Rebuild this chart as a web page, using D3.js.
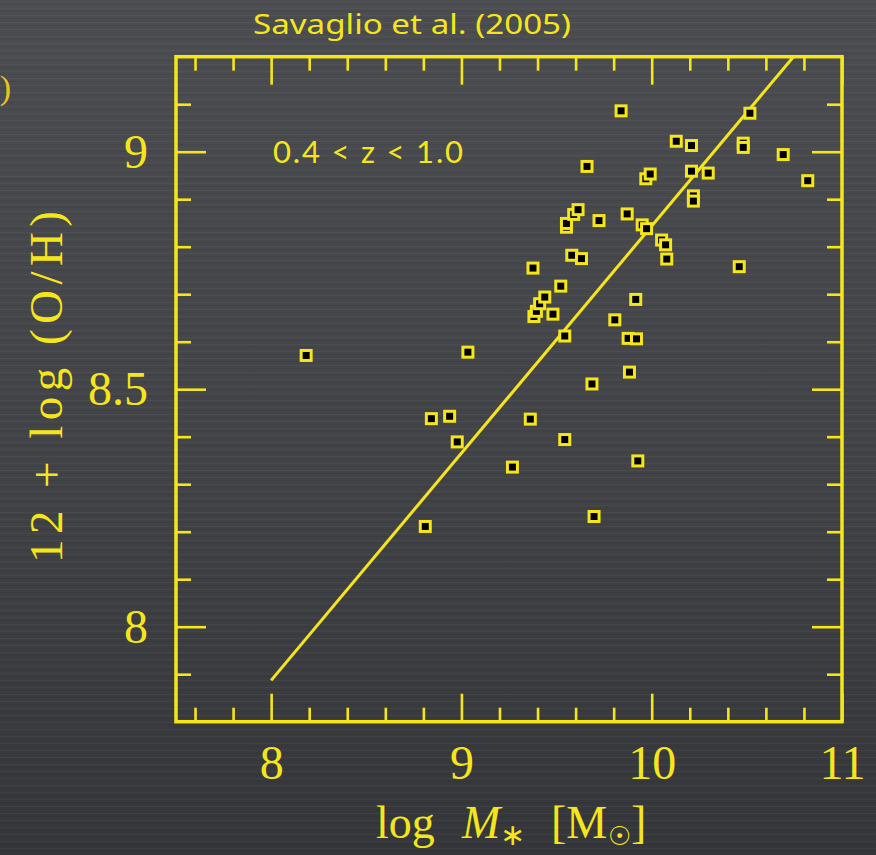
<!DOCTYPE html>
<html>
<head>
<meta charset="utf-8">
<script src="https://cdn.jsdelivr.net/npm/d3@7"></script>
<style>
  html, body { margin: 0; padding: 0; background: #434448; }
  svg { display: block; }
</style>
</head>
<body>
<script>
// ---- Data ----
const logMass = [8.184, 8.810, 8.842, 8.938, 8.978, 9.034, 9.268, 9.362, 9.376, 9.381,
  9.394, 9.411, 9.438, 9.481, 9.522, 9.543, 9.543, 9.552, 9.552, 9.590,
  9.613, 9.580, 9.631, 9.660, 9.686, 9.697, 9.723, 9.806, 9.839, 9.871,
  9.876, 9.920, 9.883, 9.916, 9.927, 9.950, 9.973, 9.969, 9.992, 10.052,
  10.073, 10.079, 10.129, 10.209, 10.209, 10.297, 10.219, 10.219, 10.481, 10.481,
  10.460, 10.516, 10.691, 10.820];
const oxygenAbund = [8.571, 8.211, 8.438, 8.443, 8.389, 8.578, 8.336, 8.437, 8.755, 8.653,
  8.664, 8.680, 8.694, 8.658, 8.717, 8.612, 8.394, 8.841, 8.849, 8.868,
  8.878, 8.782, 8.775, 8.969, 8.511, 8.232, 8.855, 8.646, 9.086, 8.869,
  8.607, 8.606, 8.536, 8.689, 8.349, 8.846, 8.838, 8.943, 8.953, 8.814,
  8.804, 8.774, 9.022, 9.013, 8.959, 8.955, 8.907, 8.896, 9.018, 9.009,
  8.758, 9.081, 8.994, 8.939];
const fitX = [8.0, 10.745];
const fitY = [7.887, 9.2];
const xTickValues = [8, 9, 10, 11];
const xTickLabels = ["8", "9", "10", "11"];
const yTickValues = [8, 8.5, 9];
const yTickLabels = ["8", "8.5", "9"];
const titleText = "Savaglio et al. (2005)";
const redshiftText = "0.4 < z < 1.0";

// ---- Layout ----
const W = 876, H = 855;
const yellow = "#f5e61c";
const L = 176, R = 842, T = 56.7, B = 721.7;

const svg = d3.select("body").append("svg").attr("width", W).attr("height", H);
const defs = svg.append("defs");
const grad = defs.append("linearGradient").attr("id", "bg").attr("x1", 0).attr("y1", 0).attr("x2", 0).attr("y2", 1);
grad.append("stop").attr("offset", "0%").attr("stop-color", "#4c4d51");
grad.append("stop").attr("offset", "55%").attr("stop-color", "#424347");
grad.append("stop").attr("offset", "100%").attr("stop-color", "#35363a");
const pat = defs.append("pattern").attr("id", "brush").attr("width", 876).attr("height", 7)
  .attr("patternUnits", "userSpaceOnUse");
pat.append("rect").attr("x", 0).attr("y", 1).attr("width", 876).attr("height", 1).attr("fill", "#ffffff").attr("opacity", 0.035);
pat.append("rect").attr("x", 0).attr("y", 4).attr("width", 876).attr("height", 1).attr("fill", "#000000").attr("opacity", 0.06);
svg.append("rect").attr("width", W).attr("height", H).attr("fill", "url(#bg)");
svg.append("rect").attr("width", W).attr("height", H).attr("fill", "url(#brush)");

const x = d3.scaleLinear().domain([7.5, 11]).range([L, R]);
const y = d3.scaleLinear().domain([7.8, 9.2]).range([B, T]);

const xMinor = d3.range(7.6, 10.9, 0.2).map(v => +v.toFixed(1)).filter(v => Math.abs(v - Math.round(v)) > 1e-6);
const yMinor = d3.range(7.9, 9.15, 0.1).map(v => +v.toFixed(1)).filter(v => !yTickValues.includes(v));

const serif = "'Liberation Serif', 'DejaVu Serif', serif";

function styleAxis(g) {
  g.select(".domain").remove();
  g.selectAll(".tick line").attr("stroke", yellow).attr("stroke-width", 2.6);
  g.selectAll(".tick text").attr("fill", yellow)
    .attr("font-family", serif).attr("font-size", 48);
}

// bottom
svg.append("g").attr("transform", `translate(0,${B})`)
  .call(d3.axisBottom(x).tickValues(xMinor).tickSize(-14).tickFormat("")).call(styleAxis);
svg.append("g").attr("transform", `translate(0,${B})`)
  .call(d3.axisBottom(x).tickValues(xTickValues).tickSize(-28).tickPadding(23)
    .tickFormat((d, i) => xTickLabels[i])).call(styleAxis);
// top
svg.append("g").attr("transform", `translate(0,${T})`)
  .call(d3.axisTop(x).tickValues(xMinor).tickSize(-14).tickFormat("")).call(styleAxis);
svg.append("g").attr("transform", `translate(0,${T})`)
  .call(d3.axisTop(x).tickValues(xTickValues).tickSize(-28).tickFormat("")).call(styleAxis);
// left
svg.append("g").attr("transform", `translate(${L},0)`)
  .call(d3.axisLeft(y).tickValues(yMinor).tickSize(-15).tickFormat("")).call(styleAxis);
svg.append("g").attr("transform", `translate(${L},0)`)
  .call(d3.axisLeft(y).tickValues(yTickValues).tickSize(-30).tickPadding(28)
    .tickFormat((d, i) => yTickLabels[i])).call(styleAxis);
// right
svg.append("g").attr("transform", `translate(${R},0)`)
  .call(d3.axisRight(y).tickValues(yMinor).tickSize(-15).tickFormat("")).call(styleAxis);
svg.append("g").attr("transform", `translate(${R},0)`)
  .call(d3.axisRight(y).tickValues(yTickValues).tickSize(-30).tickFormat("")).call(styleAxis);

// frame
svg.append("rect").attr("x", L).attr("y", T).attr("width", R - L).attr("height", B - T)
  .attr("fill", "none").attr("stroke", yellow).attr("stroke-width", 3.5);

// fit line
const lineData = fitX.map((v, i) => [v, fitY[i]]);
svg.append("path").datum(lineData)
  .attr("d", d3.line().x(d => x(d[0])).y(d => y(d[1])))
  .attr("fill", "none").attr("stroke", yellow).attr("stroke-width", 3);

// points
const pts = logMass.map((v, i) => ({ m: v, o: oxygenAbund[i] }));
const s = 10;
svg.append("g").selectAll("rect").data(pts).join("rect")
  .attr("x", d => x(d.m) - s / 2).attr("y", d => y(d.o) - s / 2)
  .attr("width", s).attr("height", s)
  .attr("fill", "#000").attr("stroke", yellow).attr("stroke-width", 3);

// title
svg.append("text").attr("x", 412).attr("y", 34).attr("text-anchor", "middle")
  .attr("fill", yellow).attr("font-family", "'Noto Sans', 'Open Sans', sans-serif")
  .attr("font-size", 28).attr("textLength", 318).attr("lengthAdjust", "spacingAndGlyphs")
  .text(titleText);

// redshift label
svg.append("text").attr("x", 273).attr("y", 163)
  .attr("fill", yellow).attr("font-family", "Lato, 'Open Sans', sans-serif")
  .attr("font-size", 31).attr("textLength", 190).attr("lengthAdjust", "spacing")
  .text(redshiftText);

// x axis title
const xt = svg.append("text").attr("y", 838)
  .attr("fill", yellow).attr("font-family", serif).attr("font-size", 46);
xt.append("tspan").attr("x", 376).text("log");
xt.append("tspan").attr("x", 462).attr("font-style", "italic").text("M");
xt.append("tspan").attr("x", 500).attr("y", 845).attr("font-size", 30).attr("font-family", "'DejaVu Sans', sans-serif").text("∗");
xt.append("tspan").attr("x", 551).attr("y", 838).text("[M");
xt.append("tspan").attr("x", 608).attr("y", 845).attr("font-size", 26).attr("font-family", "'DejaVu Sans', sans-serif").text("☉");
xt.append("tspan").attr("x", 631).attr("y", 838).text("]");

// y axis title
svg.append("text").attr("transform", `translate(62,${387}) rotate(-90)`)
  .attr("text-anchor", "middle").attr("fill", yellow)
  .attr("font-family", serif).attr("font-size", 47)
  .attr("textLength", 352).attr("lengthAdjust", "spacing")
  .text("12 + log (O/H)");

// partial label clipped at left edge (as in the reference)
svg.append("text").attr("x", 11).attr("y", 99).attr("text-anchor", "end")
  .attr("fill", "#e9c41e").attr("font-family", serif).attr("font-size", 34)
  .text("(0)");
</script>
</body>
</html>
